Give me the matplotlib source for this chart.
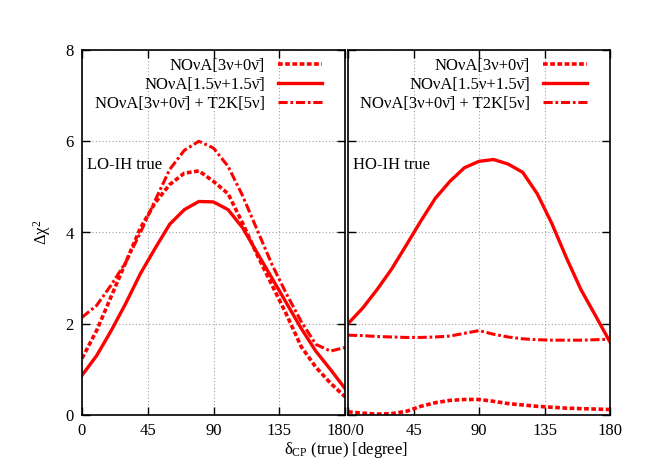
import matplotlib
matplotlib.use("Agg")
import matplotlib.pyplot as plt
import numpy as np

plt.rcParams['font.family'] = ['Liberation Serif', 'DejaVu Serif']
plt.rcParams['mathtext.fontset'] = 'custom'
plt.rcParams['mathtext.rm'] = 'Liberation Serif'
plt.rcParams['mathtext.it'] = 'Liberation Serif:italic'

delta = [0, 10, 20, 30, 40, 50, 60, 70, 80, 90, 100, 110, 120, 130, 140, 150, 160, 170, 180]

# LO-IH true panel
lo_nova30 = [1.24, 1.85, 2.6, 3.35, 4.1, 4.65, 5.05, 5.3, 5.35, 5.12, 4.85, 4.2, 3.5, 2.85, 2.2, 1.5, 1.05, 0.7, 0.4]
lo_nova1515 = [0.87, 1.3, 1.85, 2.45, 3.1, 3.65, 4.18, 4.5, 4.68, 4.67, 4.5, 4.1, 3.55, 3.0, 2.45, 1.9, 1.4, 1.0, 0.58]
lo_combo = [2.14, 2.4, 2.85, 3.35, 4.0, 4.7, 5.38, 5.8, 6.0, 5.85, 5.45, 4.8, 4.05, 3.3, 2.65, 2.05, 1.55, 1.4, 1.48]

# HO-IH true panel
ho_nova30 = [0.07, 0.04, 0.02, 0.03, 0.08, 0.19, 0.27, 0.32, 0.34, 0.34, 0.3, 0.25, 0.22, 0.19, 0.17, 0.15, 0.14, 0.13, 0.12]
ho_nova1515 = [2.0, 2.34, 2.75, 3.2, 3.72, 4.25, 4.75, 5.12, 5.42, 5.56, 5.6, 5.5, 5.32, 4.85, 4.2, 3.45, 2.75, 2.18, 1.6]
ho_combo = [1.75, 1.74, 1.72, 1.71, 1.70, 1.70, 1.71, 1.73, 1.79, 1.85, 1.77, 1.71, 1.67, 1.65, 1.64, 1.64, 1.64, 1.65, 1.66]

labels = ['NOνA[3ν+0ν\u0304]', 'NOνA[1.5ν+1.5ν\u0304]', 'NOνA[3ν+0ν\u0304] + T2K[5ν]']
panel_titles = ['LO-IH true', 'HO-IH true']
xticks = [0, 45, 90, 135, 180]
yticks = [0, 2, 4, 6, 8]

FS = 12

fig = plt.figure(figsize=(6.64, 4.65), dpi=100)
W, H = 664, 465
ax1 = fig.add_axes([82 / W, (H - 415) / H, (345 - 82) / W, 365 / H])
ax2 = fig.add_axes([348 / W, (H - 415) / H, (610 - 348) / W, 365 / H])

red = '#ff0000'
styles = [
    dict(linestyle=(0, (1.3, 0.7)), linewidth=2.6),
    dict(linestyle='-', linewidth=2.4),
    dict(linestyle=(0, (3.0, 0.9, 0.9, 0.9)), linewidth=2.2),
]

for ax, data, title in [(ax1, [lo_nova30, lo_nova1515, lo_combo], panel_titles[0]),
                        (ax2, [ho_nova30, ho_nova1515, ho_combo], panel_titles[1])]:
    for series, st, lab in zip(data, styles, labels):
        ax.plot(delta, series, color=red, label=lab, **st)
    ax.set_xlim(0, 180)
    ax.set_ylim(0, 8)
    ax.set_xticks(xticks)
    ax.set_yticks(yticks)
    ax.grid(True, color='#a0a0a0', linestyle=(0, (1, 2)), linewidth=0.8)
    ax.tick_params(direction='in', top=True, right=True, length=6, width=1,
                   labelsize=FS, pad=6)
    for s in ax.spines.values():
        s.set_linewidth(1.2)
    ax.text(0.02, 0.685, title, transform=ax.transAxes, fontsize=FS, va='center')
    leg = ax.legend(loc='upper right', bbox_to_anchor=(0.937, 1.0 - 1 / 365),
                    markerfirst=False, frameon=False,
                    fontsize=FS, handlelength=2.65, handletextpad=0.75,
                    labelspacing=0.18, borderaxespad=0)

ax1.set_xticklabels(['0', '45', '90', '135', '180/0'])
ax2.set_xticklabels(['', '45', '90', '135', '180'])
ax2.set_yticklabels([])
ax1.set_ylabel('Δχ$^2$', fontsize=FS, labelpad=9)
fig.text(346 / W, 1 - 450 / H, 'δ$_{\\rm CP}$ (true) [degree]', ha='center', va='center', fontsize=FS)

fig.savefig('out.png', dpi=100)
